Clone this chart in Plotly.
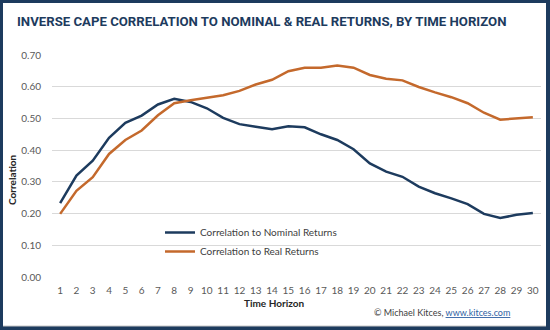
import plotly.graph_objects as go

horizon = list(range(1, 31))
nominal = [0.233, 0.320, 0.367, 0.439, 0.486, 0.509, 0.544, 0.562, 0.552, 0.532,
           0.502, 0.482, 0.474, 0.466, 0.475, 0.472, 0.450, 0.432, 0.403, 0.358,
           0.332, 0.316, 0.285, 0.264, 0.248, 0.230, 0.199, 0.186, 0.196, 0.202]
real = [0.199, 0.272, 0.315, 0.388, 0.432, 0.462, 0.510, 0.548, 0.557, 0.566,
        0.573, 0.587, 0.607, 0.622, 0.649, 0.660, 0.660, 0.667, 0.660, 0.637,
        0.625, 0.620, 0.599, 0.582, 0.567, 0.548, 0.518, 0.496, 0.501, 0.504]
y_ticks = [0.0, 0.1, 0.2, 0.3, 0.4, 0.5, 0.6, 0.7]

NAVY = "#1d3b5e"
ORANGE = "#c4692c"
FONT = "Lato"

W, H = 550, 330
ML, MR, MT, MB = 52, 9, 55, 53
PW, PH = W - ML - MR, H - MT - MB

def px(x):
    return (x - ML) / PW

def py(y):
    return (H - MB - y) / PH

fig = go.Figure()
fig.add_trace(go.Scatter(x=horizon, y=nominal, mode="lines", name="Correlation to Nominal Returns",
                         line=dict(color=NAVY, width=2.5)))
fig.add_trace(go.Scatter(x=horizon, y=real, mode="lines", name="Correlation to Real Returns",
                         line=dict(color=ORANGE, width=2.5)))

fig.update_layout(
    width=W, height=H,
    margin=dict(l=ML, r=MR, t=MT, b=MB),
    paper_bgcolor=NAVY,
    plot_bgcolor="white",
    font=dict(family=FONT, size=10, color="#595959"),
    showlegend=True,
    legend=dict(x=px(160), y=py(218), xanchor="left", yanchor="top",
                bgcolor="rgba(0,0,0,0)", font=dict(size=10, color="#404040"),
                tracegroupgap=0, itemwidth=30),
    xaxis=dict(range=[0.5, 30.5], tickvals=horizon, ticktext=[str(h) for h in horizon],
               showgrid=False, zeroline=False, showline=False, ticks="",
               tickfont=dict(size=10, color="#595959"), ticklabelstandoff=6),
    yaxis=dict(range=[0, 0.7], tickvals=y_ticks, ticktext=[f"{v:.2f}" for v in y_ticks],
               showgrid=True, gridcolor="#d9d9d9", gridwidth=1, zeroline=False,
               showline=False, ticks="", tickfont=dict(size=10, color="#595959"),
               ticklabelstandoff=10),
    shapes=[
        dict(type="rect", xref="paper", yref="paper", layer="below",
             x0=px(3), x1=px(546), y0=py(326), y1=py(3),
             fillcolor="white", line=dict(width=0)),
        dict(type="line", xref="paper", yref="paper", layer="below",
             x0=px(3), x1=px(546), y0=py(326), y1=py(326),
             line=dict(color="#c8c8c8", width=1)),
    ],
    annotations=[
        dict(text="<b>INVERSE CAPE CORRELATION TO NOMINAL &amp; REAL RETURNS, BY TIME HORIZON</b>",
             xref="paper", yref="paper", x=px(261), y=py(21), xanchor="center", yanchor="middle",
             showarrow=False, font=dict(family="Roboto", size=13.2, color=NAVY)),
        dict(text="<b>Correlation</b>", xref="paper", yref="paper", x=px(12), y=py(180),
             xanchor="center", yanchor="middle", textangle=-90, showarrow=False,
             font=dict(family=FONT, size=10, color="#262626")),
        dict(text="<b>Time Horizon</b>", xref="paper", yref="paper", x=px(274), y=py(303),
             xanchor="center", yanchor="middle", showarrow=False,
             font=dict(family=FONT, size=10, color="#262626")),
        dict(text="© Michael Kitces, <a href='https://www.kitces.com' style='color:#2e5fa3'><u>www.kitces.com</u></a>",
             xref="paper", yref="paper", x=px(512), y=py(312), xanchor="right", yanchor="middle",
             showarrow=False, font=dict(family=FONT, size=9, color="#404040")),
    ],
)

fig.write_html("out.html")
